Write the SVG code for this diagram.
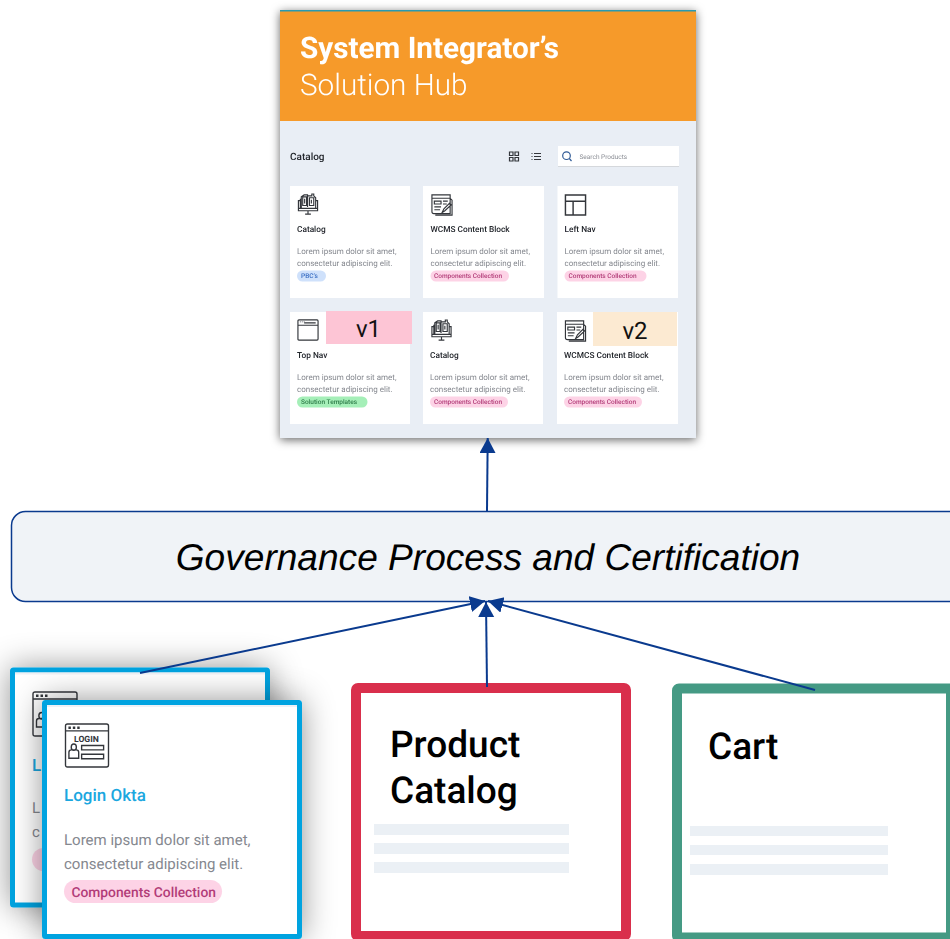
<svg xmlns="http://www.w3.org/2000/svg" width="950" height="939" viewBox="0 0 950 939">
<style>
text{font-family:Roboto,"Liberation Sans",sans-serif;text-rendering:geometricPrecision}
.card{fill:#fff}
.t{font-size:8.300px;font-weight:500;fill:#22252b}
.d{font-size:8px;fill:#85888f}
.b{font-size:6.500px;font-weight:500}
.i{fill:none;stroke:#33363b;stroke-width:1.2}
.c{fill:none;stroke:#0a3a8e;stroke-width:2}
.bar{fill:#ebf0f5}
.big{font-size:37px;font-weight:500;fill:#000}
.soft{filter:url(#soft)}
</style>
<defs>
<filter id="soft" x="-5%" y="-5%" width="110%" height="110%"><feGaussianBlur stdDeviation=".35"/></filter>
<filter id="sh" x="-15%" y="-15%" width="130%" height="130%"><feDropShadow dx="0" dy="2" stdDeviation="5" flood-color="#000" flood-opacity=".6"/></filter>
<filter id="sh2" x="-25%" y="-25%" width="150%" height="150%"><feDropShadow dx="0" dy="0" stdDeviation="16" flood-color="#000" flood-opacity=".42"/></filter>
<marker id="a" markerUnits="userSpaceOnUse" markerWidth="18" markerHeight="18" refX="15" refY="8" orient="auto"><path d="M0 0L15 8L0 16z" fill="#0a3a8e"/></marker>
<symbol id="ic-cat" viewBox="0 0 24 24" overflow="visible"><path class="i" d="M4 8H2V18.500H22V8H20M9 22H15M12 18.500V22M2 16H22M5 16V4L8 2H11.500V14.500M11.500 3H16V1H18V3L20 5V16M4 6V16M6.500 4H10.500V13H6.500zM13.500 5H18V13H13.500zM8.500 6V11M15.500 7V11"/></symbol>
<symbol id="ic-wcms" viewBox="0 0 24 24" overflow="visible"><path class="i" d="M1.500 1.500H20.500V21H3.500Q1.500 21 1.500 19zM1.500 5H20.500M20.500 5L22.500 7V22.500H5M4 8H11V11H4zM4 14H11M4 17H10M13 8H18M13 11H17M12 20L14 16L20 10L21.500 12L15 18z"/></symbol>
<symbol id="ic-left" viewBox="0 0 24 24" overflow="visible"><path class="i" style="stroke-width:1.500" d="M1.500 1.500H22.500V22.500H1.500zM1.500 8H22.500M9.500 8V22.500"/></symbol>
<symbol id="ic-top" viewBox="0 0 24 24" overflow="visible"><path class="i" d="M2.500 1.500H21.500Q22.500 1.500 22.500 2.500V21.500Q22.500 22.500 21.500 22.500H2.500Q1.500 22.500 1.500 21.500V2.500Q1.500 1.500 2.500 1.500zM1.500 7H22.500M8 4.500H20"/><path d="M3.500 3h1v1h-1zM5.500 3h1v1h-1zM7.500 3h1v1h-1z" fill="#33363b"/></symbol>
<symbol id="ic-login" viewBox="0 0 44 44" overflow="visible"><path d="M2 0H42Q44 0 44 2V42Q44 44 42 44H2Q0 44 0 42V2Q0 0 2 0zM0 7H44M3.500 35V29Q3.500 26.500 6 26.500H11Q13.500 26.500 13.500 29V35zM8.500 20.500C5 20.500 5 27 8.500 27C12 27 12 20.500 8.500 20.500zM16.500 22H39V26.500H16.500zM16.500 31H39V35.500H16.500z" fill="none" stroke="#33363b" stroke-width="1.400"/><path d="M3 2.500h2.500v2.500H3zM7.500 2.500h2.500v2.500H7.500zM12 2.500h2.500v2.500H12z" fill="#33363b"/></symbol>
</defs>
<rect width="950" height="939" fill="#fff"/>

<g id="hub">
<rect x="280" y="10" width="416" height="428" fill="#e9eef5" filter="url(#sh)"/>
<rect x="280" y="10" width="416" height="111" fill="#f69a2a"/>
<rect x="280" y="10" width="416" height="1.500" fill="#2a9ab0"/>
<text class="soft" x="300" y="58" font-size="29.700" font-weight="700" fill="#fff">System Integrator’s</text>
<text class="soft" x="300" y="95" font-size="29.700" font-weight="300" fill="#fff">Solution Hub</text>
<text class="soft" x="290" y="160" font-size="10" font-weight="500" fill="#22252b">Catalog</text>
<path d="M509.500 152h3.500v3.500h-3.500zM515 152h3.500v3.500H515zM509.500 157.500h3.500v3.500h-3.500zM515 157.500h3.500v3.500H515z" fill="none" stroke="#33363b" stroke-width="1.200"/>
<path d="M534 153.500H541M534 156.500H541M534 159.500H541" stroke="#33363b" stroke-width="1.200" fill="none"/>
<path d="M531.500 153.500h1M531.500 156.500h1M531.500 159.500h1" stroke="#33363b" stroke-width="1.200"/>
<rect x="558" y="146" width="121" height="21" fill="#fff"/>
<rect x="558" y="166" width="121" height="1" fill="#d5d8dc"/>
<circle cx="566.500" cy="155.700" r="3.800" fill="none" stroke="#2f5a96" stroke-width="1.200"/>
<path d="M569.300 158.500L571.500 161" stroke="#2f5a96" stroke-width="1.200"/>
<text class="soft" x="579.500" y="159" font-size="6.500" fill="#8a8d94">Search Products</text>
</g>

<g id="card-catalog-1">
<rect class="card" x="290" y="186" width="120" height="112"/>
<use href="#ic-cat" x="296.500" y="193" width="23" height="23"/>
<g class="soft">
<text class="t" x="297" y="232">Catalog</text>
<text class="d" x="297" y="253.500">Lorem ipsum dolor sit amet,</text>
<text class="d" x="297" y="265.500">consectetur adipiscing elit.</text>
<rect x="297" y="270.500" width="29" height="11" rx="5.500" fill="#cfe1fb"/>
<text class="b" x="301" y="278.300" fill="#3a6fc4">PBC’s</text>
</g></g>
<g id="card-wcms-1">
<rect class="card" x="423" y="186" width="121" height="112"/>
<use href="#ic-wcms" x="430.500" y="193.500" width="23" height="23"/>
<g class="soft">
<text class="t" x="430.500" y="232">WCMS Content Block</text>
<text class="d" x="430.500" y="253.500">Lorem ipsum dolor sit amet,</text>
<text class="d" x="430.500" y="265.500">consectetur adipiscing elit.</text>
<rect x="430.500" y="270.500" width="78.500" height="11" rx="5.500" fill="#fdd3e6"/>
<text class="b" x="434" y="278.300" fill="#b23c78">Components Collection</text>
</g></g>
<g id="card-leftnav">
<rect class="card" x="557.500" y="186" width="120.500" height="112"/>
<use href="#ic-left" x="564" y="193.500" width="23" height="23"/>
<g class="soft">
<text class="t" x="564.500" y="232">Left Nav</text>
<text class="d" x="564.500" y="253.500">Lorem ipsum dolor sit amet,</text>
<text class="d" x="564.500" y="265.500">consectetur adipiscing elit.</text>
<rect x="564.500" y="270.500" width="82" height="11" rx="5.500" fill="#fdd3e6"/>
<text class="b" x="568.500" y="278.300" fill="#b23c78">Components Collection</text>
</g></g>
<g id="card-topnav">
<rect class="card" x="290" y="312" width="120" height="112"/>
<use href="#ic-top" x="296.500" y="318.500" width="23" height="23"/>
<rect x="326" y="311" width="86" height="33" fill="#fdc5d5"/>
<text x="368.500" y="337" font-size="24" fill="#111" text-anchor="middle">v1</text>
<g class="soft">
<text class="t" x="297" y="358">Top Nav</text>
<text class="d" x="297" y="379.500">Lorem ipsum dolor sit amet,</text>
<text class="d" x="297" y="391.500">consectetur adipiscing elit.</text>
<rect x="297" y="396.500" width="70.500" height="11" rx="5.500" fill="#a5efb8"/>
<text class="b" x="301" y="404.300" fill="#2f7d4a">Solution Templates</text>
</g></g>
<g id="card-catalog-2">
<rect class="card" x="423" y="312" width="120" height="112"/>
<use href="#ic-cat" x="430" y="319" width="23" height="23"/>
<g class="soft">
<text class="t" x="430" y="358">Catalog</text>
<text class="d" x="430" y="379.500">Lorem ipsum dolor sit amet,</text>
<text class="d" x="430" y="391.500">consectetur adipiscing elit.</text>
<rect x="430" y="396.500" width="78" height="11" rx="5.500" fill="#fdd3e6"/>
<text class="b" x="434" y="404.300" fill="#b23c78">Components Collection</text>
</g></g>
<g id="card-wcmcs">
<rect class="card" x="557" y="312" width="121" height="112"/>
<use href="#ic-wcms" x="564" y="319.500" width="23" height="23"/>
<rect x="593" y="312" width="84" height="34" fill="#fcead2"/>
<text x="635" y="339" font-size="24" fill="#111" text-anchor="middle">v2</text>
<g class="soft">
<text class="t" x="564" y="358">WCMCS Content Block</text>
<text class="d" x="564" y="379.500">Lorem ipsum dolor sit amet,</text>
<text class="d" x="564" y="391.500">consectetur adipiscing elit.</text>
<rect x="564" y="396.500" width="78" height="11" rx="5.500" fill="#fdd3e6"/>
<text class="b" x="568" y="404.300" fill="#b23c78">Components Collection</text>
</g></g>

<g id="governance">
<rect x="11.500" y="511.500" width="960" height="90" rx="14" fill="#f0f3f7" stroke="#0a3a8e" stroke-width="1.500"/>
<text x="488" y="570" font-size="37.100" font-style="italic" text-anchor="middle" style="font-family:'Liberation Sans',sans-serif" fill="#000">Governance Process and Certification</text>
</g>

<g id="login-back">
<rect x="12.500" y="670" width="255" height="235" rx="1" fill="#fff" stroke="#00a3e0" stroke-width="5" filter="url(#sh2)"/>
<rect x="15" y="672.500" width="250" height="2" fill="#eef1f6"/>
<use href="#ic-login" x="33" y="692" width="44" height="44"/>
<text x="32" y="771" font-size="17" font-weight="500" fill="#1ba7df">L</text>
<text x="32" y="813" font-size="15" fill="#85888f">L</text>
<text x="32" y="837" font-size="15" fill="#85888f">c</text>
<rect x="32" y="848" width="158" height="23" rx="11.500" fill="#fdd3e6"/>
</g>
<g id="login-front">
<rect x="44.500" y="702.500" width="255" height="234" rx="1" fill="#fff" stroke="#00a3e0" stroke-width="5" filter="url(#sh2)"/>
<rect x="47" y="705" width="250" height="2" fill="#eef1f6"/>
<use href="#ic-login" x="65" y="724" width="44" height="43"/>
<text x="74" y="741.500" font-size="8.600" font-weight="700" fill="#33363b">LOGIN</text>
<text x="64" y="801" font-size="17" font-weight="500" fill="#1ba7df">Login Okta</text>
<text x="64" y="845" font-size="15" fill="#85888f">Lorem ipsum dolor sit amet,</text>
<text x="64" y="869" font-size="15" fill="#85888f">consectetur adipiscing elit.</text>
<rect x="64" y="880" width="158" height="23" rx="11.500" fill="#fdd3e6"/>
<text x="71.500" y="896.500" font-size="13.800" font-weight="500" fill="#b23c78">Components Collection</text>
</g>

<g id="product-catalog">
<rect x="356" y="688" width="270" height="248" rx="2" fill="#fff" stroke="#d92f4c" stroke-width="10"/>
<text class="big" x="390" y="757">Product</text>
<text class="big" x="390" y="802.500">Catalog</text>
<rect class="bar" x="374" y="824" width="195" height="11"/>
<rect class="bar" x="374" y="843" width="195" height="11"/>
<rect class="bar" x="374" y="862" width="195" height="11"/>
</g>
<g id="cart">
<rect x="677" y="688.500" width="274" height="249" rx="2" fill="#fff" stroke="#459a84" stroke-width="10"/>
<text class="big" x="708" y="758.500">Cart</text>
<rect class="bar" x="690" y="826" width="198" height="10"/>
<rect class="bar" x="690" y="845" width="198" height="10"/>
<rect class="bar" x="690" y="864" width="198" height="11"/>
</g>

<g id="connectors">
<path class="c" d="M487 511L487.700 438" marker-end="url(#a)"/>
<path class="c" d="M140 673L485 601" marker-end="url(#a)"/>
<path class="c" d="M487 687L486 602" marker-end="url(#a)"/>
<path class="c" d="M815 690L488 601" marker-end="url(#a)"/>
</g>
</svg>
